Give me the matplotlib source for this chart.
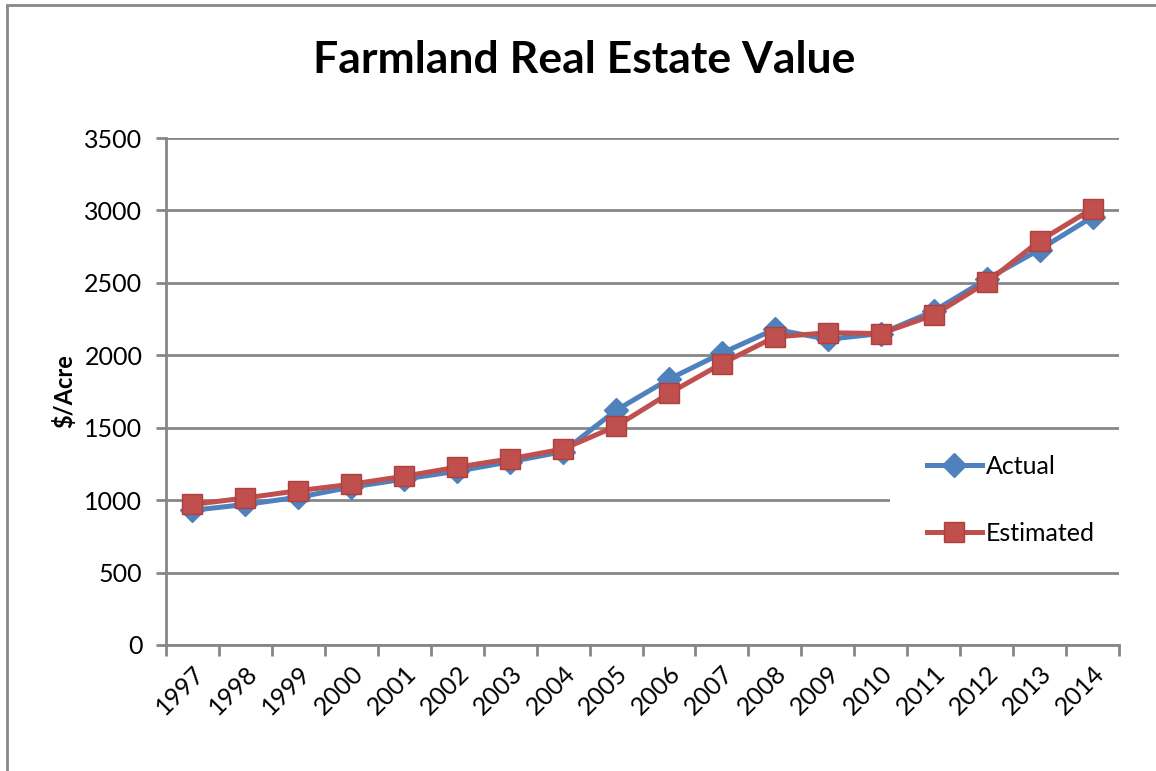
import matplotlib
matplotlib.use("Agg")
import matplotlib.pyplot as plt
from matplotlib.patches import Rectangle

years = ["1997", "1998", "1999", "2000", "2001", "2002", "2003", "2004", "2005",
         "2006", "2007", "2008", "2009", "2010", "2011", "2012", "2013", "2014"]
actual = [930, 970, 1020, 1090, 1145, 1200, 1265, 1335, 1620,
          1835, 2015, 2180, 2110, 2150, 2305, 2525, 2730, 2955]
estimated = [970, 1015, 1065, 1110, 1165, 1228, 1285, 1353, 1510,
             1737, 1943, 2126, 2156, 2150, 2278, 2503, 2790, 3012]
yticks = [0, 500, 1000, 1500, 2000, 2500, 3000, 3500]

plt.rcParams["font.family"] = ["Lato", "DejaVu Sans"]

blue = "#4F81BD"
red = "#C0504D"
grid_col = "#868686"

fig = plt.figure(figsize=(11.56, 7.71), dpi=100)
ax = fig.add_axes([166 / 1156, 126 / 771, 953 / 1156, 507 / 771])

x = list(range(len(years)))
ax.plot(x, actual, color=blue, linewidth=3.6, marker="D", markersize=12,
        markeredgecolor=blue, label="Actual", zorder=3)
ax.plot(x, estimated, color=red, linewidth=3.6, marker="s", markersize=14,
        markeredgecolor="#B0403D", label="Estimated", zorder=4)

ax.set_xlim(-0.5, len(years) - 0.5)
ax.set_ylim(0, 3500)
ax.set_yticks(yticks)
ax.set_yticklabels([str(v) for v in yticks], fontsize=18)
ax.yaxis.grid(True, color=grid_col, linewidth=2)
ax.set_axisbelow(True)

ax.set_xticks(x)
ax.set_xticklabels(years, fontsize=18, rotation=45, ha="right", va="top",
                   rotation_mode="anchor")
ax.set_xticks([i - 0.5 for i in range(len(years) + 1)], minor=True)
ax.tick_params(axis="x", which="major", length=0, pad=12)
ax.tick_params(axis="x", which="minor", length=8, width=2, color=grid_col)
ax.tick_params(axis="y", length=7, width=2, color=grid_col, pad=10)

for side in ["top", "right"]:
    ax.spines[side].set_visible(False)
for side in ["left", "bottom"]:
    ax.spines[side].set_color(grid_col)
    ax.spines[side].set_linewidth(2)

ax.set_ylabel("$/Acre", fontsize=17, fontweight="bold", labelpad=6)

fig.text(0.505, 0.922, "Farmland Real Estate Value", fontsize=32,
         fontweight="bold", ha="center", va="center")

# white legend area hides the gridline behind it
ax.add_patch(Rectangle((0.76, 0.17), 0.25, 0.225, transform=ax.transAxes,
                       facecolor="white", edgecolor="none", zorder=1,
                       clip_on=False))

leg = ax.legend(loc="upper left", bbox_to_anchor=(0.788, 0.394), fontsize=18,
                frameon=False, handlelength=2.2, handletextpad=0.16,
                labelspacing=1.75, borderaxespad=0)

fig.patches.append(Rectangle((7 / 1156, -0.1), 1.2, 1.1 - 5 / 771,
                             transform=fig.transFigure, fill=False,
                             edgecolor="#878787", linewidth=2))

fig.savefig("out.png", dpi=100)
